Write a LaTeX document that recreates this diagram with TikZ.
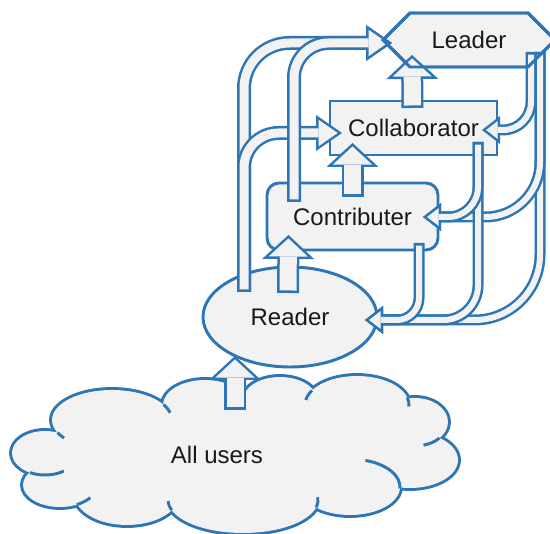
\documentclass[tikz,border=0pt]{standalone}
\usepackage{fontspec}
\setmainfont{Liberation Sans}
\usetikzlibrary{calc,arrows.meta,shapes.geometric,shapes.symbols}

\definecolor{lineblue}{HTML}{2E75B6}
\definecolor{boxfill}{HTML}{F2F2F2}

% puffs of the cloud: centre x / centre y / x radius / y radius
\newcommand\cloudpuffs{45/453/33/22, 112/420/60/30, 205/405/42/25, 280/400/37/23,
  357/405/52/29, 415/422/33/24, 410/460/48/28, 350/487/50/28, 243/500/75/33,
  127/495/52/30, 60/485/37/22}
% inner hooks: puff as above / start angle / end angle
\newcommand\cloudhooks{45/453/33/22/117/55, 112/420/60/30/155/143, 112/420/60/30/-31/-14,
  357/405/52/29/210/190, 357/405/52/29/-15/3, 415/422/33/24/42/75, 350/487/50/28/3/-72,
  243/500/75/33/13/-5, 243/500/75/33/162/178, 60/485/37/22/63/35}

\tikzset{
  box/.style={draw=lineblue, line width=2.2pt, fill=boxfill, inner sep=0pt, outer sep=0pt,
    text=black!90, font=\fontsize{18}{21}\selectfont},
  leadershape/.style={box, signal, signal to=west and east, signal pointer angle=90,
    minimum width=129pt, minimum height=40.5pt},
  lefttube/.style={draw=lineblue, line width=10.5pt, rounded corners=#1,
    -{Triangle[length=19.5pt,width=27pt,line width=0pt]},
    postaction={draw=boxfill, line width=6.75pt, shorten <=1.9pt, shorten >=3.3pt,
      -{Triangle[length=14.3pt,width=19.9pt,line width=0pt]}}},
  righttube/.style={draw=lineblue, line width=8.25pt, rounded corners=#1,
    -{Triangle[length=13.5pt,width=21pt,line width=0pt]},
    postaction={draw=boxfill, line width=4.5pt, shorten <=1.9pt, shorten >=3.05pt,
      -{Triangle[length=8.6pt,width=13.3pt,line width=0pt]}}},
  uparrow/.style={draw=lineblue, line width=16.5pt,
    -{Triangle[length=18pt,width=39pt,line width=0pt]},
    postaction={draw=boxfill, line width=12.75pt, shorten <=1.9pt, shorten >=2.55pt,
      -{Triangle[length=13.6pt,width=29.4pt,line width=0pt]}}},
}

\begin{document}
\begin{tikzpicture}[x=0.75pt,y=0.75pt,yscale=-1,xscale=1]
  \useasboundingbox (0,0) rectangle (550,534);

  % All users: cloud outline, fill, hooks
  \foreach \cx/\cy/\rx/\ry in \cloudpuffs
    \draw[lineblue, line width=4.4pt] (\cx,\cy) ellipse [x radius=\rx, y radius=\ry];
  \foreach \cx/\cy/\rx/\ry in \cloudpuffs
    \fill[boxfill] (\cx,\cy) ellipse [x radius=\rx, y radius=\ry];
  \fill[boxfill] (45,453) -- (112,420) -- (205,405) -- (280,400) -- (357,405) -- (415,422)
    -- (410,460) -- (350,487) -- (243,500) -- (127,495) -- (60,485) -- cycle;
  \foreach \cx/\cy/\rx/\ry/\a/\b in \cloudhooks
    \draw[lineblue, line width=2.2pt] ($(\cx,\cy)+({\rx*cos(\a)},{\ry*sin(\a)})$)
      arc[start angle=\a, end angle=\b, x radius=\rx, y radius=\ry];
  \node[font=\fontsize{18}{21}\selectfont, text=black!90] (users) at (217,455) {All users};
  % Reader
  \node[box, ellipse, minimum width=130.5pt, minimum height=75pt] (reader) at (290,317) {Reader};
  % Contributer
  \node[box, rounded corners=9pt, minimum width=128.25pt, minimum height=50.25pt] (contrib) at (352.5,216.5) {Contributer};
  % Collaborator
  \node[box, minimum width=125.25pt, minimum height=40.5pt] (collab) at (413.5,128) {Collaborator};
  % Leader
  \node[leadershape] (leader) at (469,40) {Leader};

  % up one level
  \draw[uparrow] ($(users.center)+(18,-45)$) -- ($(reader.south)+(-55,-11)$);
  \draw[uparrow] ($(reader.north)+(-2,26)$) -- ($(contrib.south)+(-64,-15)$);
  \draw[uparrow] ($(contrib.north)+(0,14)$) -- ($(collab.south)+(-61,-12)$);
  \draw[uparrow] ($(collab.north)+(-1,7)$) -- ($(leader.south)+(-57,-12)$);

  % up, skipping levels
  \draw[lefttube=34pt] ($(reader.north)+(-46,25)$) |- ($(leader.west)+(9,3)$);
  \draw[lefttube=26pt] ($(reader.north)+(-46,25)$) |- ($(collab.west)+(12,5)$);
  \draw[lefttube=26pt] ($(contrib.north west)+(27,19)$) |- ($(leader.west)+(9,3)$);

  % down
  \draw[righttube=49pt] ($(leader.center)+(71,12)$) |- ($(reader.east)+(-12,3)$);
  \draw[righttube=41pt] ($(leader.center)+(71,12)$) |- ($(contrib.east)+(-15,0.5)$);
  \draw[righttube=26pt] ($(collab.south east)+(-19,-13)$) |- ($(reader.east)+(-12,3)$);
  \draw[righttube=22.5pt] ($(collab.south east)+(-19,-13)$) |- ($(contrib.east)+(-15,0.5)$);
  \draw[righttube=16.5pt] ($(contrib.south east)+(-19,-7)$) |- ($(reader.east)+(-12,3)$);
  \draw[righttube=21pt] ($(leader.center)+(62,12)$) |- ($(collab.east)+(-15,2)$);

  % Leader outline on top
  \node[leadershape, fill=none] (leaderedge) at (leader.center) {};
\end{tikzpicture}
\end{document}
